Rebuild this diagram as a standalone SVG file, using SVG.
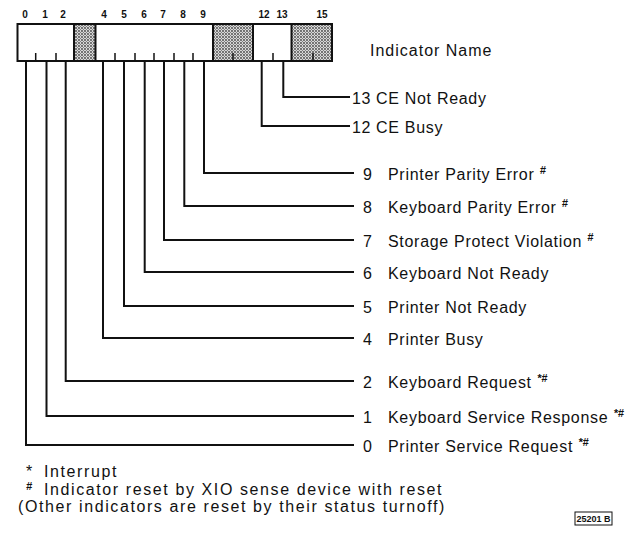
<svg xmlns="http://www.w3.org/2000/svg" width="630" height="533" viewBox="0 0 630 533">
<style>
.t{font-family:"Liberation Sans",Arial,sans-serif;font-size:16px;letter-spacing:0.7px;fill:#111}
.n{letter-spacing:1.6px}
.b{font-family:"Liberation Sans",Arial,sans-serif;font-size:10px;font-weight:bold;fill:#111;text-anchor:middle}
.sup{font-size:11px;font-style:italic;font-weight:bold;letter-spacing:0}
.w{fill:none;stroke:#111;stroke-width:2}
.tk{stroke:#111;stroke-width:1.5}
</style>
<defs>
<pattern id="dots" width="3" height="3" patternUnits="userSpaceOnUse">
<rect width="3" height="3" fill="#d8d8d8"/>
<circle cx="1" cy="1" r="0.9" fill="#444"/>
<circle cx="2.5" cy="2.5" r="0.6" fill="#777"/>
</pattern>
</defs>
<rect width="630" height="533" fill="#fff"/>
<g id="register">
<rect x="74" y="24" width="21.5" height="37" fill="url(#dots)"/>
<rect x="213" y="24" width="40" height="37" fill="url(#dots)"/>
<rect x="291.5" y="24" width="40.5" height="37" fill="url(#dots)"/>
<rect x="17.5" y="24" width="314.5" height="37" class="w"/>
<line x1="74" y1="24" x2="74" y2="61" class="w"/>
<line x1="95.5" y1="24" x2="95.5" y2="61" class="w"/>
<line x1="213" y1="24" x2="213" y2="61" class="w"/>
<line x1="253" y1="24" x2="253" y2="61" class="w"/>
<line x1="291.5" y1="24" x2="291.5" y2="61" class="w"/>
<g class="tk">
<line x1="35.7" y1="53" x2="35.7" y2="61"/>
<line x1="56" y1="53" x2="56" y2="61"/>
<line x1="115" y1="53" x2="115" y2="61"/>
<line x1="135" y1="53" x2="135" y2="61"/>
<line x1="154" y1="53" x2="154" y2="61"/>
<line x1="174" y1="53" x2="174" y2="61"/>
<line x1="193" y1="53" x2="193" y2="61"/>
<line x1="233" y1="53" x2="233" y2="61"/>
<line x1="273" y1="53" x2="273" y2="61"/>
<line x1="313" y1="53" x2="313" y2="61"/>
</g>
<text class="b" x="25" y="18">0</text>
<text class="b" x="45" y="18">1</text>
<text class="b" x="63" y="18">2</text>
<text class="b" x="104" y="18">4</text>
<text class="b" x="124" y="18">5</text>
<text class="b" x="144" y="18">6</text>
<text class="b" x="163" y="18">7</text>
<text class="b" x="183" y="18">8</text>
<text class="b" x="203" y="18">9</text>
<text class="b" x="264" y="18">12</text>
<text class="b" x="282" y="18">13</text>
<text class="b" x="322" y="18">15</text>
</g>
<text class="t" x="370" y="56" style="letter-spacing:1px">Indicator Name</text>
<g id="connectors" class="w">
<polyline points="283.3,61 283.3,97 350,97"/>
<polyline points="261.7,61 261.7,126 350,126"/>
<polyline points="204,61 204,173 354,173"/>
<polyline points="184.3,61 184.3,206 354,206"/>
<polyline points="164,61 164,240 354,240"/>
<polyline points="144.7,61 144.7,272 354,272"/>
<polyline points="124,61 124,306 354,306"/>
<polyline points="103,61 103,338 354,338"/>
<polyline points="65.7,61 65.7,381 354,381"/>
<polyline points="46.5,61 46.5,416 354,416"/>
<polyline points="26,61 26,445 354,445"/>
</g>
<g id="ind13"><text class="t" x="352" y="104">13</text><text class="t" x="376" y="104">CE Not Ready</text></g>
<g id="ind12"><text class="t" x="352" y="133">12</text><text class="t" x="376" y="133">CE Busy</text></g>
<g id="ind9"><text class="t" x="363" y="180">9</text><text class="t" x="388" y="180">Printer Parity Error <tspan class="sup" dy="-6">#</tspan></text></g>
<g id="ind8"><text class="t" x="363" y="213">8</text><text class="t" x="388" y="213">Keyboard Parity Error <tspan class="sup" dy="-6">#</tspan></text></g>
<g id="ind7"><text class="t" x="363" y="247">7</text><text class="t" x="388" y="247">Storage Protect Violation <tspan class="sup" dy="-6">#</tspan></text></g>
<g id="ind6"><text class="t" x="363" y="279">6</text><text class="t" x="388" y="279">Keyboard Not Ready</text></g>
<g id="ind5"><text class="t" x="363" y="313">5</text><text class="t" x="388" y="313">Printer Not Ready</text></g>
<g id="ind4"><text class="t" x="363" y="345">4</text><text class="t" x="388" y="345">Printer Busy</text></g>
<g id="ind2"><text class="t" x="363" y="388">2</text><text class="t" x="388" y="388">Keyboard Request <tspan class="sup" dy="-6">*#</tspan></text></g>
<g id="ind1"><text class="t" x="363" y="423">1</text><text class="t" x="388" y="423">Keyboard Service Response <tspan class="sup" dy="-6">*#</tspan></text></g>
<g id="ind0"><text class="t" x="363" y="452">0</text><text class="t" x="388" y="452">Printer Service Request <tspan class="sup" dy="-6">*#</tspan></text></g>
<g id="notes">
<text class="t" x="26" y="477">*</text><text class="t n" x="44" y="477">Interrupt</text>
<text class="t sup" x="26" y="490">#</text><text class="t n" x="44" y="495">Indicator reset by XIO sense device with reset</text>
<text class="t n" x="18" y="512">(Other indicators are reset by their status turnoff)</text>
</g>
<g id="figid">
<rect x="575" y="512" width="37" height="13" fill="none" stroke="#111" stroke-width="1"/>
<text class="b" x="593.5" y="522" style="font-size:9px">25201 B</text>
</g>
</svg>
